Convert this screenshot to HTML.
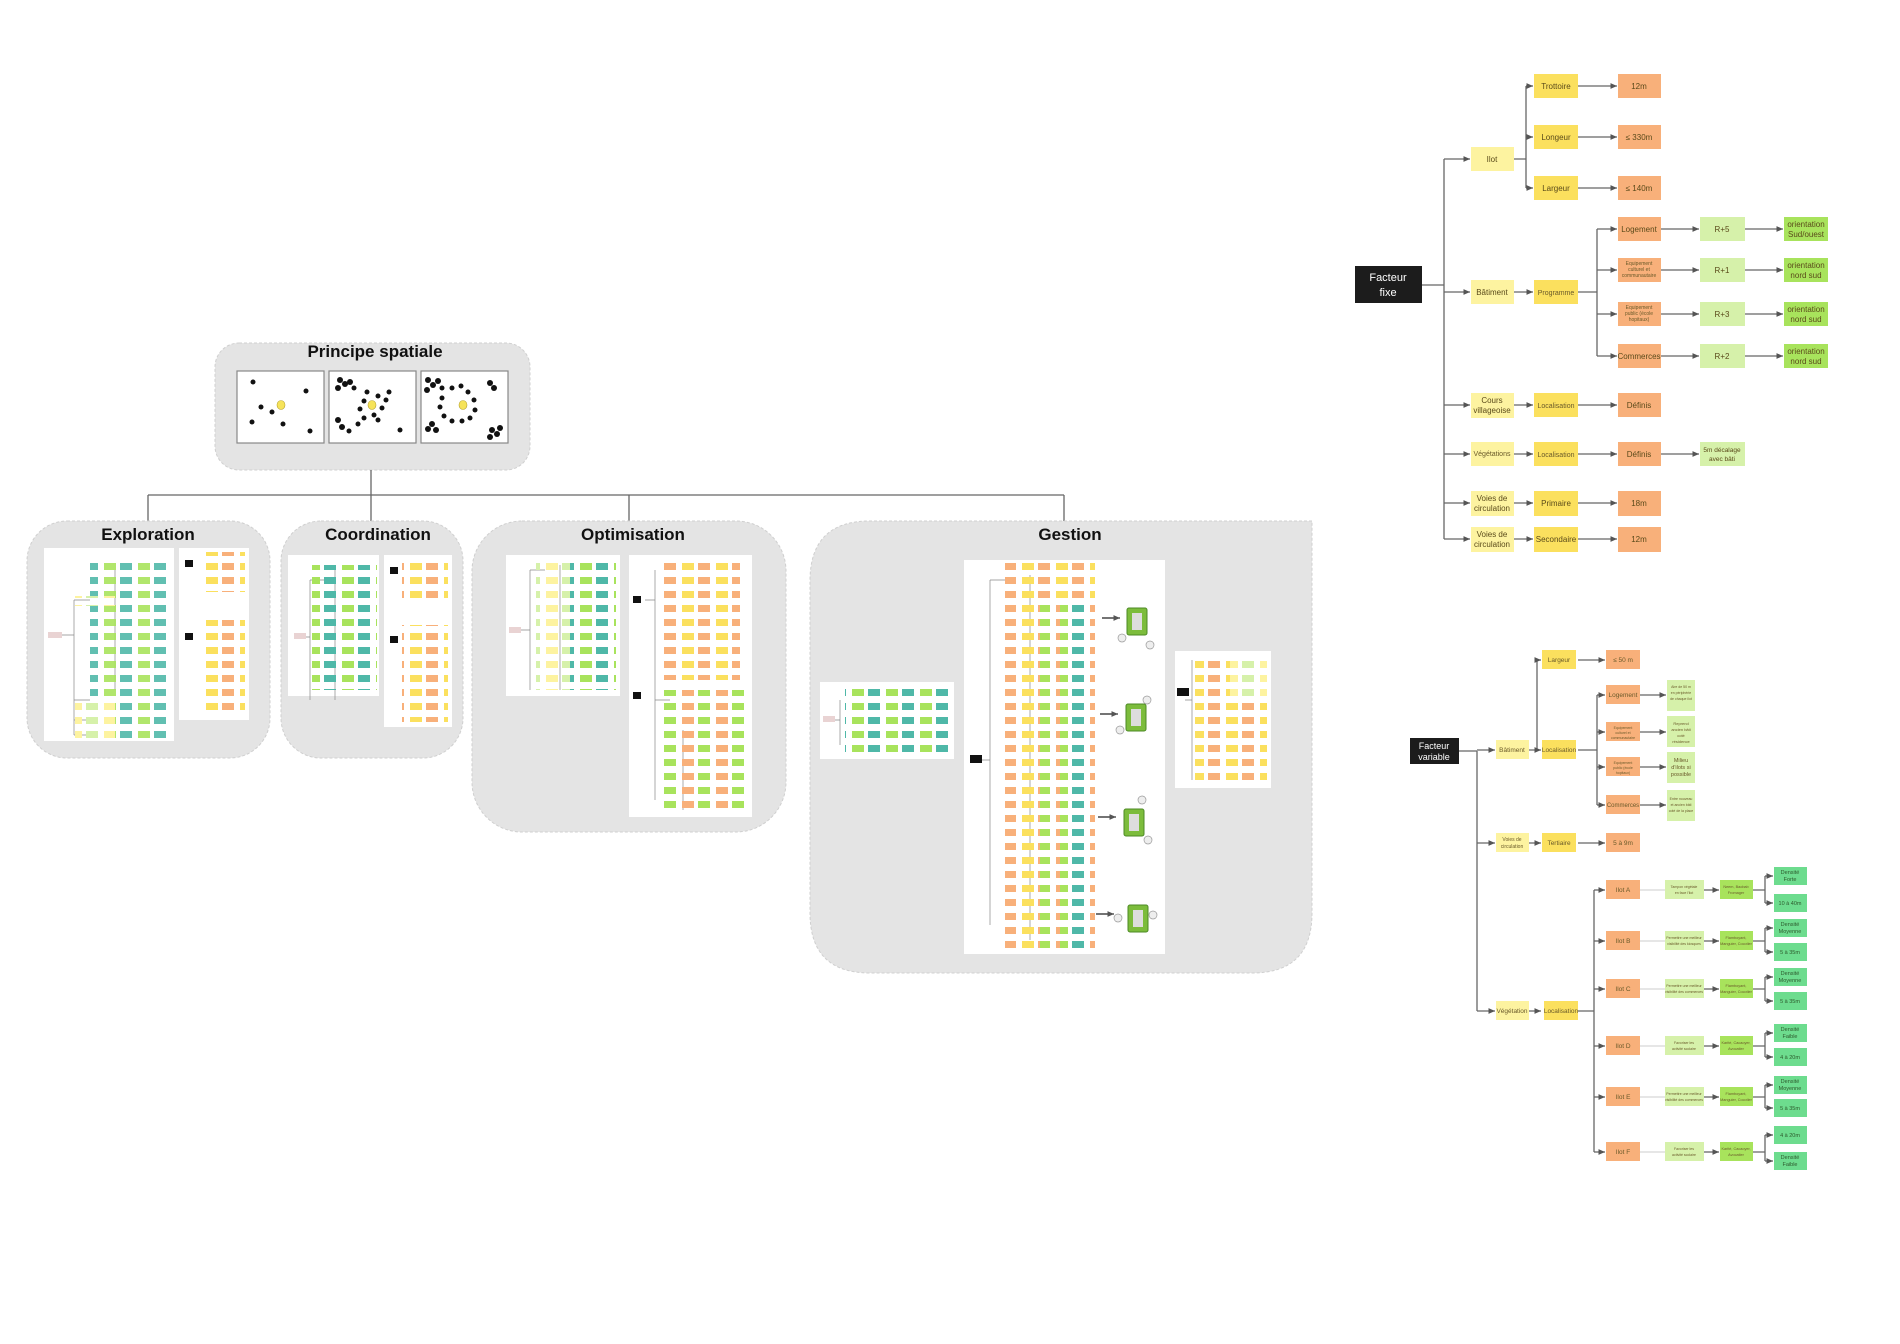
<!DOCTYPE html>
<html><head><meta charset="utf-8"><style>
html,body{margin:0;padding:0;background:#fff;}
svg{display:block;font-family:"Liberation Sans",sans-serif;}
.t{font-size:8px;fill:#5a4a1a;text-anchor:middle;}
.ts{font-size:5px;fill:#6a5a2a;text-anchor:middle;}
.ln{stroke:#666;stroke-width:1.3;fill:none;}
.th{stroke:#888;stroke-width:.7;fill:none;}
.ly{fill:#fdf3a0}.y{fill:#fbe05e}.o{fill:#f8b07a}.lg{fill:#d6f1aa}.g{fill:#a8e35c}.m{fill:#6ddc8e}.c{fill:#4fb8a8}.gr{fill:#b8c4c4}
.box{stroke:#cfcfcf;stroke-width:1;fill:#e4e4e4;stroke-dasharray:3 2}
</style></head><body>
<svg width="1900" height="1344" viewBox="0 0 1900 1344" xmlns="http://www.w3.org/2000/svg">
<defs>
<marker id="a" markerWidth="6" markerHeight="6" refX="5" refY="3" orient="auto"><path d="M0,0.8 L5,3 L0,5.2z" fill="#555"/></marker>
<pattern id="p1" width="34" height="14" patternUnits="userSpaceOnUse"><rect x="2" y="3" width="12" height="7" fill="#fbe05e"/><rect x="18" y="3" width="12" height="7" fill="#f8b07a"/></pattern>
<pattern id="p2" width="34" height="14" patternUnits="userSpaceOnUse"><rect x="2" y="3" width="12" height="7" fill="#a8e35c"/><rect x="18" y="3" width="12" height="7" fill="#4fb8a8"/></pattern>
<pattern id="p3" width="34" height="14" patternUnits="userSpaceOnUse"><rect x="2" y="3" width="12" height="7" fill="#fdf3a0"/><rect x="18" y="3" width="12" height="7" fill="#d6f1aa"/></pattern>
<pattern id="p4" width="34" height="14" patternUnits="userSpaceOnUse"><rect x="2" y="3" width="12" height="7" fill="#f8b07a"/><rect x="18" y="3" width="12" height="7" fill="#a8e35c"/></pattern>
</defs>

<!-- Left hierarchy -->
<rect class="box" x="215" y="343" width="315" height="127" rx="24"/>
<text x="375" y="357" font-size="17" font-weight="bold" text-anchor="middle" fill="#111">Principe spatiale</text>
<g stroke="#888" stroke-width="1.2" fill="#fff">
<rect x="237" y="371" width="87" height="72"/><rect x="329" y="371" width="87" height="72"/><rect x="421" y="371" width="87" height="72"/></g>
<g fill="#111">
<circle cx="253" cy="382" r="2.5"/><circle cx="306" cy="391" r="2.5"/><circle cx="261" cy="407" r="2.5"/><circle cx="272" cy="412" r="2.5"/><circle cx="252" cy="422" r="2.5"/><circle cx="283" cy="424" r="2.5"/><circle cx="310" cy="431" r="2.5"/>
<circle cx="340" cy="380" r="3"/><circle cx="345" cy="384" r="3"/><circle cx="338" cy="388" r="3"/><circle cx="350" cy="382" r="3"/><circle cx="354" cy="388" r="2.5"/><circle cx="367" cy="392" r="2.5"/><circle cx="378" cy="396" r="2.5"/><circle cx="389" cy="392" r="2.5"/><circle cx="364" cy="401" r="2.5"/><circle cx="360" cy="409" r="2.5"/><circle cx="364" cy="418" r="2.5"/><circle cx="374" cy="415" r="2.5"/><circle cx="382" cy="408" r="2.5"/><circle cx="386" cy="400" r="2.5"/><circle cx="378" cy="420" r="2.5"/><circle cx="338" cy="420" r="3"/><circle cx="342" cy="427" r="3"/><circle cx="349" cy="431" r="2.5"/><circle cx="358" cy="424" r="2.5"/><circle cx="400" cy="430" r="2.5"/>
<circle cx="428" cy="380" r="3"/><circle cx="433" cy="385" r="3"/><circle cx="427" cy="390" r="3"/><circle cx="438" cy="381" r="3"/><circle cx="442" cy="388" r="2.5"/><circle cx="452" cy="388" r="2.5"/><circle cx="461" cy="386" r="2.5"/><circle cx="468" cy="392" r="2.5"/><circle cx="474" cy="400" r="2.5"/><circle cx="475" cy="410" r="2.5"/><circle cx="470" cy="418" r="2.5"/><circle cx="462" cy="421" r="2.5"/><circle cx="452" cy="421" r="2.5"/><circle cx="444" cy="416" r="2.5"/><circle cx="440" cy="407" r="2.5"/><circle cx="442" cy="398" r="2.5"/><circle cx="490" cy="383" r="3"/><circle cx="494" cy="388" r="3"/><circle cx="432" cy="424" r="3"/><circle cx="428" cy="429" r="3"/><circle cx="436" cy="430" r="3"/><circle cx="492" cy="430" r="3"/><circle cx="497" cy="434" r="3"/><circle cx="490" cy="437" r="3"/><circle cx="500" cy="428" r="3"/>
</g>
<g fill="#f6e35a" stroke="#b8a430" stroke-width=".6"><ellipse cx="281" cy="405" rx="4" ry="4.5"/><ellipse cx="372" cy="405" rx="4" ry="4.5"/><ellipse cx="463" cy="405" rx="4" ry="4.5"/></g>

<g stroke="#666" stroke-width="1.3" fill="none">
<path d="M371 470V495M148 495H1064M148 495V521M371 495V521M629 495V521M1064 495V521"/></g>

<rect class="box" x="27" y="521" width="243" height="237" rx="40"/>
<rect class="box" x="281" y="521" width="182" height="237" rx="40"/>
<rect class="box" x="472" y="521" width="314" height="311" rx="50"/>
<path class="box" d="M1312 521 H870 Q810 521 810 581 V913 Q810 973 870 973 H1252 Q1312 973 1312 913 Z"/>
<g font-size="17" font-weight="bold" text-anchor="middle" fill="#111">
<text x="148" y="540">Exploration</text><text x="378" y="540">Coordination</text><text x="633" y="540">Optimisation</text><text x="1070" y="540">Gestion</text></g>

<g fill="#fff">
<rect x="44" y="548" width="130" height="193"/><rect x="179" y="548" width="70" height="172"/>
<rect x="288" y="555" width="91" height="141"/><rect x="384" y="555" width="68" height="172"/>
<rect x="506" y="555" width="114" height="141"/><rect x="629" y="555" width="123" height="262"/>
<rect x="820" y="682" width="134" height="77"/><rect x="964" y="560" width="201" height="394"/><rect x="1175" y="651" width="96" height="137"/></g>

<!-- thumbnails -->
<g class="th"><path d="M60 635H74M74 600V735M74 600H90M74 700H90M74 720H90M74 735H90M115 600V690M115 570V690"/>
<path d="M300 637H310M310 580V700M310 580H325M335 570V700"/>
<path d="M520 630H530M530 570V690M530 570H545M560 565V690"/>
<path d="M645 600H655M655 570V680M655 680V800M655 700H670M683 730V810"/>
<path d="M830 720H840M840 700V745"/><path d="M980 760H990M990 580V925M990 580H1005M1030 575V940"/>
<path d="M1185 700H1192M1192 660V780"/></g>
<rect x="48" y="632" width="14" height="6" fill="#e9d3d3"/>
<rect x="90" y="558" width="80" height="180" fill="url(#p2)" opacity=".9"/>
<rect x="75" y="596" width="40" height="10" fill="url(#p3)"/>
<rect x="75" y="700" width="40" height="40" fill="url(#p3)"/>
<rect x="185" y="560" width="8" height="7" fill="#111"/><rect x="185" y="633" width="8" height="7" fill="#111"/>
<rect x="200" y="552" width="45" height="40" fill="url(#p1)"/><rect x="200" y="620" width="45" height="95" fill="url(#p1)"/>
<rect x="294" y="633" width="12" height="6" fill="#e9d3d3"/>
<rect x="312" y="565" width="65" height="125" fill="url(#p2)"/>
<rect x="390" y="567" width="8" height="7" fill="#111"/><rect x="390" y="636" width="8" height="7" fill="#111"/>
<rect x="402" y="558" width="46" height="45" fill="url(#p1)"/><rect x="402" y="625" width="46" height="97" fill="url(#p1)"/>
<rect x="509" y="627" width="12" height="6" fill="#e9d3d3"/>
<rect x="536" y="560" width="80" height="130" fill="url(#p3)"/><rect x="570" y="560" width="46" height="130" fill="url(#p2)"/>
<rect x="633" y="596" width="8" height="7" fill="#111"/><rect x="633" y="692" width="8" height="7" fill="#111"/>
<rect x="660" y="560" width="80" height="120" fill="url(#p1)"/><rect x="660" y="690" width="88" height="125" fill="url(#p4)"/>
<rect x="823" y="716" width="12" height="6" fill="#e9d3d3"/>
<rect x="845" y="683" width="105" height="72" fill="url(#p2)"/>
<rect x="970" y="755" width="12" height="8" fill="#111"/>
<rect x="1005" y="563" width="90" height="388" fill="url(#p1)"/><rect x="1040" y="600" width="55" height="350" fill="url(#p4)"/>
<rect x="1060" y="600" width="30" height="350" fill="url(#p2)"/>
<g fill="#7cbc3c" stroke="#4d8a25" stroke-width="1"><rect x="1127" y="608" width="20" height="27" rx="2"/><rect x="1126" y="704" width="20" height="27" rx="2"/><rect x="1124" y="809" width="20" height="27" rx="2"/><rect x="1128" y="905" width="20" height="27" rx="2"/></g>
<g fill="#ddd"><rect x="1132" y="613" width="10" height="17"/><rect x="1131" y="709" width="10" height="17"/><rect x="1129" y="814" width="10" height="17"/><rect x="1133" y="910" width="10" height="17"/></g>
<g fill="#eee" stroke="#999" stroke-width=".7"><circle cx="1122" cy="638" r="4"/><circle cx="1150" cy="645" r="4"/><circle cx="1147" cy="700" r="4"/><circle cx="1120" cy="730" r="4"/><circle cx="1142" cy="800" r="4"/><circle cx="1148" cy="840" r="4"/><circle cx="1118" cy="918" r="4"/><circle cx="1153" cy="915" r="4"/></g>
<g stroke="#222" stroke-width="1.3" marker-end="url(#a)"><path d="M1102 618H1120"/><path d="M1100 714H1118"/><path d="M1098 817H1116"/><path d="M1096 914H1114"/></g>
<rect x="1177" y="688" width="12" height="8" fill="#111"/>
<rect x="1195" y="656" width="72" height="128" fill="url(#p1)"/><rect x="1230" y="656" width="37" height="40" fill="url(#p3)"/>

<!-- Facteur fixe tree -->
<g class="ln">
<path d="M1422 285H1444M1444 159V539"/>
<path d="M1514 159H1526M1526 86V188"/>
<path d="M1578 292H1597M1597 229V356"/>
</g>
<g class="ln" marker-end="url(#a)">
<path d="M1444 159H1470"/><path d="M1444 292H1470"/><path d="M1444 405H1470"/><path d="M1444 454H1470"/><path d="M1444 503H1470"/><path d="M1444 539H1470"/>
<path d="M1526 86H1533"/><path d="M1526 137H1533"/><path d="M1526 188H1533"/>
<path d="M1578 86H1617"/><path d="M1578 137H1617"/><path d="M1578 188H1617"/>
<path d="M1514 292H1533"/><path d="M1597 229H1617"/><path d="M1597 270H1617"/><path d="M1597 314H1617"/><path d="M1597 356H1617"/>
<path d="M1661 229H1699"/><path d="M1661 270H1699"/><path d="M1661 314H1699"/><path d="M1661 356H1699"/>
<path d="M1745 229H1783"/><path d="M1745 270H1783"/><path d="M1745 314H1783"/><path d="M1745 356H1783"/>
<path d="M1514 405H1533"/><path d="M1578 405H1617"/>
<path d="M1514 454H1533"/><path d="M1578 454H1617"/><path d="M1661 454H1699"/>
<path d="M1514 503H1533"/><path d="M1578 503H1617"/>
<path d="M1514 539H1533"/><path d="M1578 539H1617"/>
</g>
<rect x="1355" y="266" width="67" height="37" fill="#1c1c1c"/>
<text x="1388" y="281" font-size="11" fill="#fff" text-anchor="middle">Facteur</text><text x="1388" y="296" font-size="11" fill="#fff" text-anchor="middle">fixe</text>
<g>
<rect class="ly" x="1471" y="147" width="43" height="24"/><text class="t" x="1492" y="162">Ilot</text>
<rect class="ly" x="1471" y="280" width="43" height="24"/><text class="t" x="1492" y="295">Bâtiment</text>
<rect class="ly" x="1471" y="393" width="43" height="25"/><text class="t" x="1492" y="403">Cours</text><text class="t" x="1492" y="413">villageoise</text>
<rect class="ly" x="1471" y="442" width="43" height="24"/><text class="ts" x="1492" y="456" style="font-size:7px">Végétations</text>
<rect class="ly" x="1471" y="491" width="43" height="25"/><text class="t" x="1492" y="501">Voies de</text><text class="t" x="1492" y="511">circulation</text>
<rect class="ly" x="1471" y="527" width="43" height="25"/><text class="t" x="1492" y="537">Voies de</text><text class="t" x="1492" y="547">circulation</text>
<rect class="y" x="1534" y="74" width="44" height="24"/><text class="t" x="1556" y="89">Trottoire</text>
<rect class="y" x="1534" y="125" width="44" height="24"/><text class="t" x="1556" y="140">Longeur</text>
<rect class="y" x="1534" y="176" width="44" height="24"/><text class="t" x="1556" y="191">Largeur</text>
<rect class="y" x="1534" y="280" width="44" height="24"/><text class="ts" x="1556" y="295" style="font-size:7px">Programme</text>
<rect class="y" x="1534" y="393" width="44" height="24"/><text class="ts" x="1556" y="408" style="font-size:7px">Localisation</text>
<rect class="y" x="1534" y="442" width="44" height="24"/><text class="ts" x="1556" y="457" style="font-size:7px">Localisation</text>
<rect class="y" x="1534" y="491" width="44" height="25"/><text class="t" x="1556" y="506">Primaire</text>
<rect class="y" x="1534" y="527" width="44" height="25"/><text class="t" x="1556" y="542">Secondaire</text>
<rect class="o" x="1618" y="74" width="43" height="24"/><text class="t" x="1639" y="89">12m</text>
<rect class="o" x="1618" y="125" width="43" height="24"/><text class="t" x="1639" y="140">≤ 330m</text>
<rect class="o" x="1618" y="176" width="43" height="24"/><text class="t" x="1639" y="191">≤ 140m</text>
<rect class="o" x="1618" y="217" width="43" height="24"/><text class="t" x="1639" y="232">Logement</text>
<rect class="o" x="1618" y="258" width="43" height="24"/><text class="ts" x="1639" y="265">Equipement</text><text class="ts" x="1639" y="271">culturel et</text><text class="ts" x="1639" y="277">communautaire</text>
<rect class="o" x="1618" y="302" width="43" height="24"/><text class="ts" x="1639" y="309">Equipement</text><text class="ts" x="1639" y="315">public (école</text><text class="ts" x="1639" y="321">hopitaux)</text>
<rect class="o" x="1618" y="344" width="43" height="24"/><text class="t" x="1639" y="359">Commerces</text>
<rect class="o" x="1618" y="393" width="43" height="24"/><text class="t" x="1639" y="408">Définis</text>
<rect class="o" x="1618" y="442" width="43" height="24"/><text class="t" x="1639" y="457">Définis</text>
<rect class="o" x="1618" y="491" width="43" height="25"/><text class="t" x="1639" y="506">18m</text>
<rect class="o" x="1618" y="527" width="43" height="25"/><text class="t" x="1639" y="542">12m</text>
<rect class="lg" x="1700" y="217" width="45" height="24"/><text class="t" x="1722" y="232">R+5</text>
<rect class="lg" x="1700" y="258" width="45" height="24"/><text class="t" x="1722" y="273">R+1</text>
<rect class="lg" x="1700" y="302" width="45" height="24"/><text class="t" x="1722" y="317">R+3</text>
<rect class="lg" x="1700" y="344" width="45" height="24"/><text class="t" x="1722" y="359">R+2</text>
<rect class="lg" x="1700" y="442" width="45" height="24"/><text class="t" x="1722" y="452" style="font-size:6.5px">5m décalage</text><text class="t" x="1722" y="461" style="font-size:6.5px">avec bâti</text>
<rect class="g" x="1784" y="217" width="44" height="24"/><text class="t" x="1806" y="227">orientation</text><text class="t" x="1806" y="237">Sud/ouest</text>
<rect class="g" x="1784" y="258" width="44" height="24"/><text class="t" x="1806" y="268">orientation</text><text class="t" x="1806" y="278">nord sud</text>
<rect class="g" x="1784" y="302" width="44" height="24"/><text class="t" x="1806" y="312">orientation</text><text class="t" x="1806" y="322">nord sud</text>
<rect class="g" x="1784" y="344" width="44" height="24"/><text class="t" x="1806" y="354">orientation</text><text class="t" x="1806" y="364">nord sud</text>
</g>

<!-- Facteur variable tree -->
<g class="ln">
<path d="M1459 751H1477M1477 751V1011"/>
<path d="M1529 750H1537M1537 660V750"/>
<path d="M1578 750H1597M1597 695V805"/>
<path d="M1578 1011H1594M1594 890V1152"/>
<path d="M1753 890H1765M1765 876V903 M1753 941H1765M1765 928V952 M1753 989H1765M1765 977V1001 M1753 1046H1765M1765 1033V1057 M1753 1097H1765M1765 1085V1108 M1753 1152H1765M1765 1135V1161"/>
</g>
<g class="ln" marker-end="url(#a)">
<path d="M1477 750H1495"/><path d="M1477 843H1495"/><path d="M1477 1011H1495"/>
<path d="M1537 660H1541"/><path d="M1537 750H1541"/><path d="M1578 660H1605"/>
<path d="M1597 695H1605"/><path d="M1597 732H1605"/><path d="M1597 767H1605"/><path d="M1597 805H1605"/>
<path d="M1640 695H1666"/><path d="M1640 732H1666"/><path d="M1640 767H1666"/><path d="M1640 805H1666"/>
<path d="M1529 843H1541"/><path d="M1578 843H1605"/>
<path d="M1529 1011H1541"/>
<path d="M1594 890H1605"/><path d="M1594 941H1605"/><path d="M1594 989H1605"/><path d="M1594 1046H1605"/><path d="M1594 1097H1605"/><path d="M1594 1152H1605"/>
<path d="M1704 890H1719"/><path d="M1704 941H1719"/><path d="M1704 989H1719"/><path d="M1704 1046H1719"/><path d="M1704 1097H1719"/><path d="M1704 1152H1719"/>
<path d="M1765 876H1773"/><path d="M1765 903H1773"/><path d="M1765 928H1773"/><path d="M1765 952H1773"/><path d="M1765 977H1773"/><path d="M1765 1001H1773"/><path d="M1765 1033H1773"/><path d="M1765 1057H1773"/><path d="M1765 1085H1773"/><path d="M1765 1108H1773"/><path d="M1765 1135H1773"/><path d="M1765 1161H1773"/>
</g>
<g stroke="#ccc" stroke-width="1"><path d="M1640 890H1665M1640 941H1665M1640 989H1665M1640 1046H1665M1640 1097H1665M1640 1152H1665"/></g>
<rect x="1410" y="738" width="49" height="26" fill="#1c1c1c"/>
<text x="1434" y="749" font-size="9" fill="#fff" text-anchor="middle">Facteur</text><text x="1434" y="760" font-size="9" fill="#fff" text-anchor="middle">variable</text>
<g>
<rect class="ly" x="1496" y="740" width="33" height="19"/><text class="ts" x="1512" y="752" style="font-size:6.5px">Bâtiment</text>
<rect class="ly" x="1496" y="833" width="33" height="19"/><text class="ts" x="1512" y="841">Voies de</text><text class="ts" x="1512" y="848">circulation</text>
<rect class="ly" x="1496" y="1001" width="33" height="19"/><text class="ts" x="1512" y="1013" style="font-size:6.5px">Végétation</text>
<rect class="y" x="1542" y="650" width="34" height="19"/><text class="ts" x="1559" y="662" style="font-size:6.5px">Largeur</text>
<rect class="y" x="1542" y="740" width="34" height="19"/><text class="ts" x="1559" y="752" style="font-size:6.5px">Localisation</text>
<rect class="y" x="1542" y="833" width="34" height="19"/><text class="ts" x="1559" y="845" style="font-size:6.5px">Tertiaire</text>
<rect class="y" x="1544" y="1001" width="34" height="19"/><text class="ts" x="1561" y="1013" style="font-size:6.5px">Localisation</text>
<rect class="o" x="1606" y="650" width="34" height="19"/><text class="ts" x="1623" y="662" style="font-size:6.5px">≤ 50 m</text>
<rect class="o" x="1606" y="685" width="34" height="19"/><text class="ts" x="1623" y="697" style="font-size:6.5px">Logement</text>
<rect class="o" x="1606" y="722" width="34" height="19"/><text class="ts" x="1623" y="729" style="font-size:3.5px">Equipement</text><text class="ts" x="1623" y="734" style="font-size:3.5px">culturel et</text><text class="ts" x="1623" y="739" style="font-size:3.5px">communautaire</text>
<rect class="o" x="1606" y="757" width="34" height="19"/><text class="ts" x="1623" y="764" style="font-size:3.5px">Equipement</text><text class="ts" x="1623" y="769" style="font-size:3.5px">public (école</text><text class="ts" x="1623" y="774" style="font-size:3.5px">hopitaux)</text>
<rect class="o" x="1606" y="795" width="34" height="19"/><text class="ts" x="1623" y="807" style="font-size:6px">Commerces</text>
<rect class="o" x="1606" y="833" width="34" height="19"/><text class="ts" x="1623" y="845" style="font-size:6.5px">5 à 9m</text>
<rect class="lg" x="1667" y="680" width="28" height="31"/><text class="ts" x="1681" y="688" style="font-size:3.5px">Aire de 50 m</text><text class="ts" x="1681" y="694" style="font-size:3.5px">en périphérie</text><text class="ts" x="1681" y="700" style="font-size:3.5px">de chaque ilot</text>
<rect class="lg" x="1667" y="716" width="28" height="31"/><text class="ts" x="1681" y="725" style="font-size:4px">Reprend</text><text class="ts" x="1681" y="731" style="font-size:4px">ancien bâti</text><text class="ts" x="1681" y="737" style="font-size:4px">coté</text><text class="ts" x="1681" y="743" style="font-size:4px">résidence</text>
<rect class="lg" x="1667" y="752" width="28" height="31"/><text class="ts" x="1681" y="762" style="font-size:5.5px">Milieu</text><text class="ts" x="1681" y="769" style="font-size:5.5px">d'ilots si</text><text class="ts" x="1681" y="776" style="font-size:5.5px">possible</text>
<rect class="lg" x="1667" y="790" width="28" height="31"/><text class="ts" x="1681" y="800" style="font-size:3.5px">Entre nouveau</text><text class="ts" x="1681" y="806" style="font-size:3.5px">et ancien bâti</text><text class="ts" x="1681" y="812" style="font-size:3.5px">coté de la place</text>
</g>
<g>
<rect class="o" x="1606" y="880" width="34" height="19"/><text class="ts" x="1623" y="892" style="font-size:6.5px">Ilot A</text>
<rect class="o" x="1606" y="931" width="34" height="19"/><text class="ts" x="1623" y="943" style="font-size:6.5px">Ilot B</text>
<rect class="o" x="1606" y="979" width="34" height="19"/><text class="ts" x="1623" y="991" style="font-size:6.5px">Ilot C</text>
<rect class="o" x="1606" y="1036" width="34" height="19"/><text class="ts" x="1623" y="1048" style="font-size:6.5px">Ilot D</text>
<rect class="o" x="1606" y="1087" width="34" height="19"/><text class="ts" x="1623" y="1099" style="font-size:6.5px">Ilot E</text>
<rect class="o" x="1606" y="1142" width="34" height="19"/><text class="ts" x="1623" y="1154" style="font-size:6.5px">Ilot F</text>
<g class="lg"><rect x="1665" y="880" width="39" height="19"/><rect x="1665" y="931" width="39" height="19"/><rect x="1665" y="979" width="39" height="19"/><rect x="1665" y="1036" width="39" height="19"/><rect x="1665" y="1087" width="39" height="19"/><rect x="1665" y="1142" width="39" height="19"/></g>
<text class="ts" x="1684" y="888" style="font-size:3.5px">Tampon végétale</text><text class="ts" x="1684" y="894" style="font-size:3.5px">en face l'ilot</text>
<text class="ts" x="1684" y="939" style="font-size:3.5px">Permettre une meilleur</text><text class="ts" x="1684" y="945" style="font-size:3.5px">visibilité des kiosques</text>
<text class="ts" x="1684" y="987" style="font-size:3.5px">Permettre une meilleur</text><text class="ts" x="1684" y="993" style="font-size:3.5px">visibilité des commerces</text>
<text class="ts" x="1684" y="1044" style="font-size:3.5px">Favoriser les</text><text class="ts" x="1684" y="1050" style="font-size:3.5px">activité scolaire</text>
<text class="ts" x="1684" y="1095" style="font-size:3.5px">Permettre une meilleur</text><text class="ts" x="1684" y="1101" style="font-size:3.5px">visibilité des commerces</text>
<text class="ts" x="1684" y="1150" style="font-size:3.5px">Favoriser les</text><text class="ts" x="1684" y="1156" style="font-size:3.5px">activité scolaire</text>
<g class="g"><rect x="1720" y="880" width="33" height="19"/><rect x="1720" y="931" width="33" height="19"/><rect x="1720" y="979" width="33" height="19"/><rect x="1720" y="1036" width="33" height="19"/><rect x="1720" y="1087" width="33" height="19"/><rect x="1720" y="1142" width="33" height="19"/></g>
<text class="ts" x="1736" y="888" style="font-size:3.8px">Neem, Baobab</text><text class="ts" x="1736" y="894" style="font-size:3.8px">Fromager</text>
<text class="ts" x="1736" y="939" style="font-size:3.8px">Flamboyant,</text><text class="ts" x="1736" y="945" style="font-size:3.8px">Manguier, Cocotier</text>
<text class="ts" x="1736" y="987" style="font-size:3.8px">Flamboyant,</text><text class="ts" x="1736" y="993" style="font-size:3.8px">Manguier, Cocotier</text>
<text class="ts" x="1736" y="1044" style="font-size:3.8px">Karité, Cacaoyer,</text><text class="ts" x="1736" y="1050" style="font-size:3.8px">Avocatier</text>
<text class="ts" x="1736" y="1095" style="font-size:3.8px">Flamboyant,</text><text class="ts" x="1736" y="1101" style="font-size:3.8px">Manguier, Cocotier</text>
<text class="ts" x="1736" y="1150" style="font-size:3.8px">Karité, Cacaoyer,</text><text class="ts" x="1736" y="1156" style="font-size:3.8px">Avocatier</text>
<g class="m"><rect x="1774" y="867" width="33" height="18"/><rect x="1774" y="894" width="33" height="18"/><rect x="1774" y="919" width="33" height="18"/><rect x="1774" y="943" width="33" height="18"/><rect x="1774" y="968" width="33" height="18"/><rect x="1774" y="992" width="33" height="18"/><rect x="1774" y="1024" width="33" height="18"/><rect x="1774" y="1048" width="33" height="18"/><rect x="1774" y="1076" width="33" height="18"/><rect x="1774" y="1099" width="33" height="18"/><rect x="1774" y="1126" width="33" height="18"/><rect x="1774" y="1152" width="33" height="18"/></g>
<g class="ts" style="font-size:5.5px;fill:#2d5a2d">
<text x="1790" y="874">Densité</text><text x="1790" y="881">Forte</text><text x="1790" y="905">10 à 40m</text>
<text x="1790" y="926">Densité</text><text x="1790" y="933">Moyenne</text><text x="1790" y="954">5 à 35m</text>
<text x="1790" y="975">Densité</text><text x="1790" y="982">Moyenne</text><text x="1790" y="1003">5 à 35m</text>
<text x="1790" y="1031">Densité</text><text x="1790" y="1038">Faible</text><text x="1790" y="1059">4 à 20m</text>
<text x="1790" y="1083">Densité</text><text x="1790" y="1090">Moyenne</text><text x="1790" y="1110">5 à 35m</text>
<text x="1790" y="1137">4 à 20m</text><text x="1790" y="1159">Densité</text><text x="1790" y="1166">Faible</text>
</g>
</g>
</svg>
</body></html>
